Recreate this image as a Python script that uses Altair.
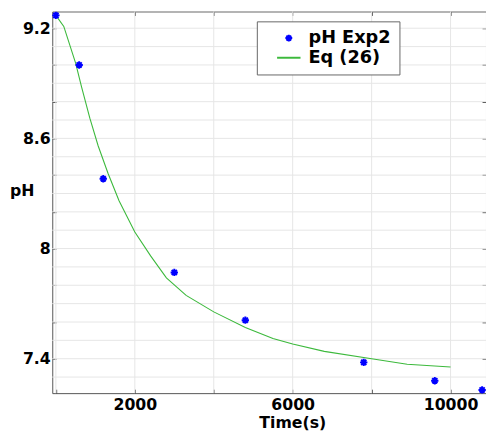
import altair as alt
import pandas as pd

# ---- data ----
series_names = ["pH Exp2", "Eq (26)"]

t_exp = [0, 590, 1200, 3000, 4800, 7800, 9600, 10800]
ph_exp = [9.27, 9.0, 8.38, 7.87, 7.61, 7.38, 7.28, 7.23]

t_eq = [0, 200, 500, 650, 860, 1070, 1320, 1600, 2000, 2400, 2800, 3300,
        4000, 4800, 5500, 6000, 6800, 8000, 8900, 10000]
ph_eq = [9.27, 9.21, 9.01, 8.88, 8.71, 8.56, 8.41, 8.26, 8.09, 7.96, 7.84, 7.745,
         7.655, 7.57, 7.51, 7.48, 7.44, 7.40, 7.37, 7.355]

x_ticks = [0, 2000, 4000, 6000, 8000, 10000]
x_labels = [2000, 6000, 10000]
y_ticks = [7.4, 7.6, 7.8, 8.0, 8.2, 8.4, 8.6, 8.8, 9.0, 9.2]
y_labels = [7.4, 8.0, 8.6, 9.2]
y_grid = [7.3, 7.4, 7.5, 7.6, 7.7, 7.8, 7.9, 8.0, 8.1, 8.2, 8.3, 8.4,
          8.5, 8.6, 8.7, 8.8, 8.9, 9.0, 9.1, 9.2]

exp_df = pd.DataFrame({"t": t_exp, "ph": ph_exp, "series": series_names[0]})
eq_df = pd.DataFrame({"t": t_eq, "ph": ph_eq})
vgrid_df = pd.DataFrame({"t": x_ticks})
hgrid_df = pd.DataFrame({"ph": y_grid})

W, H = 441, 388
FONT = "DejaVu Sans"
GREEN = "#3cb93c"

xscale = alt.Scale(domain=[-92, 10898], nice=False, zero=False)
yscale = alt.Scale(domain=[7.2125, 9.291], nice=False, zero=False)

ast_path = "M0,-1L0,1M-1,0L1,0M-0.7,-0.7L0.7,0.7M-0.7,0.7L0.7,-0.7"
line_path = "M-3.4,0L3.4,0"
cscale = alt.Scale(domain=series_names, range=["#0000ff", GREEN])
sscale = alt.Scale(domain=series_names, range=[ast_path, line_path])


def make_legend():
    return alt.Legend(
        orient="none", legendX=208, legendY=10, title=None,
        fillColor="white", strokeColor="#666", padding=8,
        labelFont=FONT, labelFontSize=18, labelFontWeight="bold", labelColor="black",
        symbolOffset=15.5, labelOffset=11, rowPadding=2,
        symbolStrokeWidth=2, symbolSize=49, zindex=2,
    )


vgrid = alt.Chart(vgrid_df).mark_rule(color="#e6e6e6", strokeWidth=1).encode(
    x=alt.X("t:Q", scale=xscale, axis=alt.Axis(
        orient="bottom", values=x_labels, ticks=False, tickSize=0, labelPadding=4,
        format="d", labelFlush=False, grid=False, domain=True, domainColor="#555",
        title="Time(s)", titleX=244, titleY=35, titleBaseline="alphabetic",
        titleAlign="center"))
)

hgrid = alt.Chart(hgrid_df).mark_rule(color="#e6e6e6", strokeWidth=1).encode(
    y=alt.Y("ph:Q", scale=yscale, axis=alt.Axis(
        orient="left", values=y_labels, ticks=False, tickSize=0, labelPadding=2,
        format="~g", labelFlush=False, grid=False, domain=True, domainColor="#555",
        title="pH", titleAngle=0, titleX=-31, titleY=182, titleAlign="center",
        titleBaseline="middle"))
)

curve = alt.Chart(eq_df).mark_line(strokeWidth=1.1, color=GREEN).encode(
    x=alt.X("t:Q", scale=xscale, axis=alt.Axis(
        orient="bottom", offset=-H, values=x_ticks, labels=False, tickSize=4,
        grid=False, domain=True, domainColor="#666", title=None)),
    y=alt.Y("ph:Q", scale=yscale, axis=alt.Axis(
        orient="left", offset=-W, values=y_ticks, labels=False, tickSize=4,
        grid=False, domain=True, domainColor="#666", title=None)),
)

points = alt.Chart(exp_df).mark_point(filled=False, strokeWidth=2, size=56, opacity=1).encode(
    x=alt.X("t:Q", scale=xscale, axis=alt.Axis(
        orient="top", offset=-H, values=x_ticks, labels=False, tickSize=4,
        grid=False, domain=False, title=None)),
    y=alt.Y("ph:Q", scale=yscale, axis=alt.Axis(
        orient="right", offset=-W, values=y_ticks, labels=False, tickSize=4,
        grid=False, domain=False, title=None)),
    color=alt.Color("series:N", scale=cscale, legend=make_legend()),
    shape=alt.Shape("series:N", scale=sscale, legend=make_legend()),
)

chart = alt.layer(vgrid, hgrid, curve, points).resolve_axis(
    x="independent", y="independent"
).properties(
    width=W, height=H,
    autosize=alt.AutoSizeParams(type="none"),
    padding={"left": 45, "top": 0, "right": 0, "bottom": 40},
).configure_view(stroke=None).configure_axis(
    labelFont=FONT, labelFontSize=16, labelFontWeight="bold", labelColor="black",
    titleFont=FONT, titleFontSize=16, titleFontWeight="bold", titleColor="black",
    tickColor="#444", tickWidth=1,
)

chart.save("out.html", embed_options={"renderer": "svg", "actions": False})
